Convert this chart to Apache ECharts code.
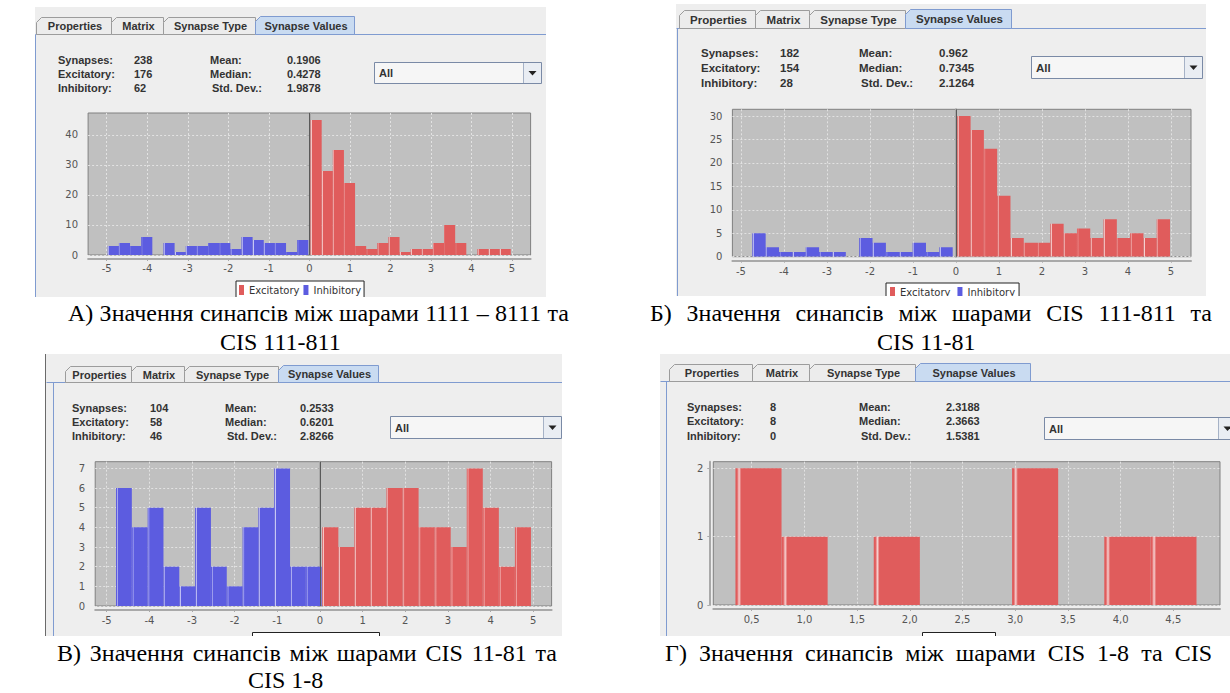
<!DOCTYPE html>
<html><head><meta charset="utf-8">
<script src="https://cdn.jsdelivr.net/npm/echarts@6/dist/echarts.min.js"></script>
<style>html,body{margin:0;padding:0;background:#fff;overflow:hidden}#c{width:1230px;height:693px}</style>
</head><body><div id="c"></div>
<script>
// ---------- data ----------
const tabLabels = ['Properties', 'Matrix', 'Synapse Type', 'Synapse Values'];
const statNames = ['Synapses:', 'Excitatory:', 'Inhibitory:'];
const statNames2 = ['Mean:', 'Median:', 'Std. Dev.:'];
const comboText = 'All';
const seriesNames = ['Excitatory', 'Inhibitory'];

const statsA = ['238', '176', '62', '0.1906', '0.4278', '1.9878'];
const statsB = ['182', '154', '28', '0.962', '0.7345', '2.1264'];
const statsC = ['104', '58', '46', '0.2533', '0.6201', '2.8266'];
const statsD = ['8', '8', '0', '2.3188', '2.3663', '1.5381'];

const xTicksSym = [-5, -4, -3, -2, -1, 0, 1, 2, 3, 4, 5];
const xTicksD = [0.5, 1.0, 1.5, 2.0, 2.5, 3.0, 3.5, 4.0, 4.5];
const yTicksA = [0, 10, 20, 30, 40];
const yTicksB = [0, 5, 10, 15, 20, 25, 30];
const yTicksC = [0, 1, 2, 3, 4, 5, 6, 7];
const yTicksD = [0, 1, 2];

// histogram counts (bin start, bin width, counts)
const excA = [45, 28, 35, 24, 3, 2, 4, 6, 1, 2, 2, 4, 10, 4, 0, 2, 2, 2];
const inhA = [3, 4, 3, 6, 0, 4, 1, 3, 3, 4, 4, 2, 6, 5, 4, 4, 1, 5];
const excStartA = 0.03, inhStartA = -4.975, binWExcA = 0.2745, binWInhA = 0.275;

const excB = [30, 27, 23, 13, 4, 3, 3, 7, 5, 6, 4, 8, 4, 5, 4, 8];
const inhB = [5, 2, 1, 1, 2, 1, 1, 0, 4, 3, 1, 1, 3, 1, 2];
const excStartB = 0.03, inhStartB = -4.737, binWExcB = 0.3092, binWInhB = 0.3107;

const excC = [4, 3, 5, 5, 6, 6, 4, 4, 3, 7, 5, 2, 4];
const inhC = [6, 4, 5, 2, 1, 5, 2, 1, 4, 5, 7, 2, 2];
const excStartC = 0.054, inhStartC = -4.782, binWExcC = 0.3763, binWInhC = 0.3709;

const excD = [2, 1, 0, 1, 0, 0, 2, 0, 1, 1];
const excStartD = 0.346, binWExcD = 0.4374;

const captionA = ['А) Значення синапсів між шарами 1111 – 8111 та', 'CIS 111-811'];
const captionB = ['Б) Значення синапсів між шарами CIS 111-811 та', 'CIS 11-81'];
const captionC = ['В) Значення синапсів між шарами CIS 11-81 та', 'CIS 1-8'];
const captionD = ['Г) Значення синапсів між шарами CIS 1-8 та CIS'];

// ---------- styles ----------
const RED = '#e05c5c', RED_L = '#f6d0d0';
const BLUE = '#5c5ce0', BLUE_L = '#c8c8f6';
const UI = '"Liberation Sans", Arial, sans-serif';
const AX = '"DejaVu Sans", sans-serif';
const SERIF = '"Liberation Serif", "Times New Roman", serif';

function bins(start, w, counts) {
  return counts.map((c, i) => [start + i * w, start + (i + 1) * w, c]);
}
function grad(base, light) {
  return new echarts.graphic.LinearGradient(0, 0, 1, 0, [
    { offset: 0, color: base }, { offset: 0.035, color: base },
    { offset: 0.08, color: light }, { offset: 0.125, color: base }, { offset: 1, color: base }
  ]);
}
function histRender(fill) {
  return function (params, api) {
    const c = api.value(2);
    if (!c) return { type: 'group', children: [] };
    const p0 = api.coord([api.value(0), c]);
    const p1 = api.coord([api.value(1), 0]);
    return { type: 'rect', shape: { x: p0[0], y: p0[1], width: p1[0] - p0[0], height: p1[1] - p0[1] }, style: { fill: fill } };
  };
}

// ---------- panels (layout) ----------
const panels = [
  { grid: { left: 88.1, top: 113, width: 442.5, height: 142 }, x: [-5.46, 5.46], yMax: 47.33, xt: xTicksSym, yt: yTicksA, xm: 4, zero: true,
    s: [[excStartA, binWExcA, excA, 0], [inhStartA, binWInhA, inhA, 1]] },
  { grid: { left: 732.4, top: 109.3, width: 458.6, height: 147.4 }, x: [-5.2, 5.465], yMax: 31.43, xt: xTicksSym, yt: yTicksB, xm: 6, zero: true,
    s: [[excStartB, binWExcB, excB, 0], [inhStartB, binWInhB, inhB, 1]] },
  { grid: { left: 95.2, top: 461.7, width: 456.4, height: 144.3 }, x: [-5.27, 5.43], yMax: 7.34, xt: xTicksSym, yt: yTicksC, xm: 5, zero: true,
    s: [[excStartC, binWExcC, excC, 0], [inhStartC, binWInhC, inhC, 1]] },
  { grid: { left: 713.3, top: 461.7, width: 506.7, height: 143.3 }, x: [0.136, 4.943], yMax: 2.097, xt: xTicksD, yt: yTicksD, xm: 5, zero: false, comma: true,
    s: [[excStartD, binWExcD, excD, 0]] }
];

const grids = [], xAxes = [], yAxes = [], series = [];
const axisCol = '#a9a9a9';
panels.forEach((p, i) => {
  grids.push(Object.assign({ show: true, backgroundColor: '#c0c0c0', borderColor: '#808080', borderWidth: 1, containLabel: false }, p.grid));
  xAxes.push({
    type: 'value', gridIndex: i, min: p.x[0], max: p.x[1], offset: 4,
    axisLine: { show: true, onZero: false, lineStyle: { color: axisCol, width: 2 } },
    axisTick: { show: true, length: 2, customValues: p.xt, lineStyle: { color: axisCol } },
    axisLabel: { customValues: p.xt, margin: p.xm, color: '#555', fontFamily: AX, fontSize: 10,
      formatter: p.comma ? (v => v.toFixed(1).replace('.', ',')) : (v => String(v)) },
    splitLine: { show: true, lineStyle: { color: '#e2e2e2', width: 1, type: [2, 2] } }
  });
  yAxes.push({
    type: 'value', gridIndex: i, min: 0, max: p.yMax, offset: 4,
    axisLine: { show: true, lineStyle: { color: axisCol, width: 2 } },
    axisTick: { show: true, length: 2, customValues: p.yt, lineStyle: { color: axisCol } },
    axisLabel: { customValues: p.yt, margin: 6, color: '#555', fontFamily: AX, fontSize: 10 },
    splitLine: { show: true, lineStyle: { color: '#e2e2e2', width: 1, type: [2, 2] } }
  });
  p.s.forEach((d, k) => {
    const isExc = d[3] === 0;
    const ser = {
      type: 'custom', name: seriesNames[d[3]], xAxisIndex: i, yAxisIndex: i,
      data: bins(d[0], d[1], d[2]), encode: { x: [0, 1], y: 2 }, clip: true,
      renderItem: histRender(isExc ? grad(RED, RED_L) : grad(BLUE, BLUE_L)),
      itemStyle: { color: isExc ? RED : BLUE }, silent: true
    };
    if (p.zero && k === 0) {
      ser.markLine = { silent: true, symbol: ['none', 'none'], label: { show: false }, animation: false,
        lineStyle: { color: '#5a5a5a', width: 1, type: 'solid' }, data: [{ xAxis: 0 }] };
    }
    series.push(ser);
  });
});

// ---------- chrome (graphic) ----------
const G = [];
function rect(x, y, w, h, fill, stroke, z) {
  G.push({ type: 'rect', shape: { x: x, y: y, width: w, height: h }, style: { fill: fill, stroke: stroke || null, lineWidth: stroke ? 1 : 0 }, z: z === undefined ? -5 : z, silent: true });
}
function line(x1, y1, x2, y2, stroke, w, z) {
  G.push({ type: 'line', shape: { x1: x1, y1: y1, x2: x2, y2: y2 }, style: { stroke: stroke, lineWidth: w || 1 }, z: z === undefined ? 1 : z, silent: true });
}
function poly(points, fill, stroke, z) {
  G.push({ type: 'polygon', shape: { points: points }, style: { fill: fill, stroke: stroke || null, lineWidth: 1 }, z: z === undefined ? 1 : z, silent: true });
}
function text(str, x, y, font, fill, align, z) {
  G.push({ type: 'text', x: x, y: y, style: { text: str, font: font, fill: fill, align: align || 'left', verticalAlign: 'middle' }, z: z === undefined ? 3 : z, silent: true });
}
const measureCtx = document.createElement('canvas').getContext('2d');
function justified(str, x0, x1, y, font) {
  measureCtx.font = font;
  const words = str.split(' ');
  const widths = words.map(w => measureCtx.measureText(w).width);
  const total = widths.reduce((a, b) => a + b, 0);
  const space = measureCtx.measureText(' ').width;
  const gap = Math.max(space, (x1 - x0 - total) / (words.length - 1));
  let x = x0;
  words.forEach((w, i) => { text(w, x, y, font, '#000'); x += widths[i] + gap; });
}

function panel(L) {
  rect(L.px0, L.py0, L.px1 - L.px0, L.py1 - L.py0, '#eeeeee', null, -10);
  const yb = L.tabB;
  line(L.px0 + 0.5, yb + 0.5, L.px1, yb + 0.5, '#7f9bd0', 1, 1);
  line(L.bx + 0.5, yb + 0.5, L.bx + 0.5, L.py1, '#7f9bd0', 1, 1);
  for (let i = 0; i < 4; i++) {
    const sel = i === 3;
    const x0 = L.tabs[i] + 0.5, x1 = L.tabs[i + 1] + 0.5;
    const t = (sel ? L.tabT - 1 : L.tabT) + 0.5;
    poly([[x0, yb + 0.5], [x0, t + 5], [x0 + 5, t], [x1, t], [x1, yb + 0.5]],
      sel ? '#c9dbf1' : '#ececec', sel ? '#7f9bd0' : '#9c9c9c', sel ? 2 : 1);
    text(tabLabels[i], (x0 + x1) / 2 + 1, (t + yb) / 2 + 0.5, 'bold ' + L.fs + 'px ' + UI, '#333', 'center', 4);
  }
  for (let r = 0; r < 3; r++) {
    const y = L.rows[r];
    text(statNames[r], L.sx[0], y, 'bold ' + L.fs + 'px ' + UI, '#333');
    text(L.stats[r], L.sx[1], y, 'bold ' + L.fs + 'px ' + UI, '#333');
    text(statNames2[r], L.sx[2] + (r === 2 ? 2 : 0), y, 'bold ' + L.fs + 'px ' + UI, '#333');
    text(L.stats[r + 3], L.sx[3], y, 'bold ' + L.fs + 'px ' + UI, '#333');
  }
  const c = L.combo;
  rect(c[0] + 0.5, c[1] + 0.5, c[2] - c[0], c[3] - c[1], '#f6f6f6', '#7a8aa6', 1);
  const bx = c[2] - 18;
  rect(bx + 1, c[1] + 1, 17, c[3] - c[1] - 1, '#e9edf3', null, 1);
  line(bx + 0.5, c[1] + 1, bx + 0.5, c[3], '#a6b2c6', 1, 2);
  const cx = bx + 9.5, cy = (c[1] + c[3]) / 2 + 0.5;
  poly([[cx - 4, cy - 2], [cx + 4, cy - 2], [cx, cy + 2.5]], '#222', null, 3);
  text(comboText, c[0] + 5, (c[1] + c[3]) / 2 + 0.5, 'bold ' + L.fs + 'px ' + UI, '#333');
}

panel({ px0: 35, py0: 7, px1: 546, py1: 297, bx: 35, tabT: 17, tabB: 34, tabs: [36, 111, 163, 255, 354], fs: 11,
  rows: [59.5, 73.5, 88], sx: [58, 134, 210, 287], stats: statsA, combo: [374, 62, 541, 83] });
panel({ px0: 676, py0: 4, px1: 1206, py1: 296, bx: 677, tabT: 10, tabB: 28, tabs: [679, 755, 809, 905, 1011], fs: 11.5,
  rows: [52.5, 67.5, 83], sx: [701, 780, 859, 939], stats: statsB, combo: [1031, 56, 1202, 78] });
panel({ px0: 46, py0: 354, px1: 562, py1: 636, bx: 53, tabT: 366, tabB: 382, tabs: [65, 131, 184, 278, 378], fs: 11,
  rows: [407.5, 421.5, 436], sx: [72, 150, 225, 300], stats: statsC, combo: [390, 416, 561, 438] });
panel({ px0: 660, py0: 354, px1: 1230, py1: 636, bx: 666, tabT: 364, tabB: 381, tabs: [669, 752, 809, 915, 1030], fs: 11,
  rows: [406.5, 421, 435.5], sx: [687, 770, 859, 946], stats: statsD, combo: [1044, 417, 1236, 439] });
line(45.5, 354, 45.5, 636, '#6a6a6a', 1, 1);

function cutBox(x0, x1, y0, y1) {
  rect(x0 + 0.5, y0 + 0.5, x1 - x0, y1 - y0 + 4, '#ffffff', '#222', 5);
}
cutBox(252, 379, 632, 636);
cutBox(922, 995, 632, 636);
rect(225, 297, 150, 6, '#ffffff', null, 50);
rect(878, 296, 150, 6, '#ffffff', null, 50);
rect(240, 636, 150, 8, '#ffffff', null, 50);
rect(910, 636, 100, 8, '#ffffff', null, 50);

// captions (first lines justified across their measured extent)
const CF = '24px ' + SERIF;
justified(captionA[0], 68, 569, 313, CF);
text(captionA[1], 220, 342, CF, '#000');
justified(captionB[0], 650, 1212, 313, CF);
text(captionB[1], 877, 342, CF, '#000');
justified(captionC[0], 57, 557, 653, CF);
text(captionC[1], 248, 680, CF, '#000');
justified(captionD[0], 665, 1212, 653, CF);

const legendBase = {
  orient: 'horizontal', icon: 'rect', itemWidth: 5, itemHeight: 10, selectedMode: false,
  borderColor: '#222', borderWidth: 1, backgroundColor: '#fff', borderRadius: 0,
  textStyle: { fontFamily: AX, fontSize: 10, color: '#333' }, data: seriesNames, z: 10
};
const legends = [
  Object.assign({}, legendBase, { left: 236, top: 281, padding: [4, 3, 4, 3], itemGap: 4 }),
  Object.assign({}, legendBase, { left: 886, top: 283, padding: [4, 4, 4, 4], itemGap: 7 })
];

const chart = echarts.init(document.getElementById('c'), null, { renderer: 'svg', width: 1230, height: 693 });
chart.setOption({
  animation: false,
  backgroundColor: '#ffffff',
  grid: grids, xAxis: xAxes, yAxis: yAxes, series: series,
  legend: legends,
  graphic: { elements: G }
});
</script>
</body></html>
